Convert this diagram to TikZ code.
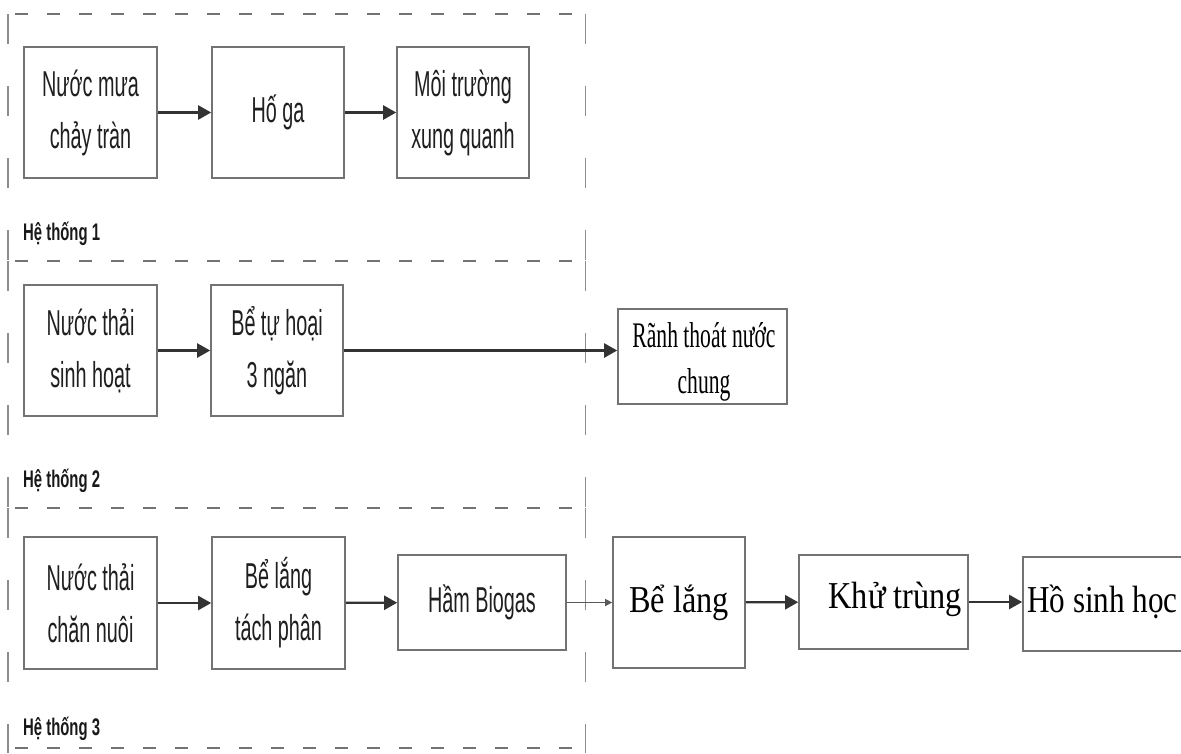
\documentclass[tikz,border=0pt]{standalone}
\usepackage{fontspec}
\setmainfont{Liberation Sans}
\newfontfamily\nar[FakeStretch=0.55]{Liberation Sans}
\newfontfamily\narb[FakeStretch=0.62]{Liberation Sans}
\newfontfamily\tms[FakeStretch=0.85]{Liberation Serif}
\newfontfamily\tmsh[FakeStretch=0.82]{Liberation Serif}
\newfontfamily\tmsn[FakeStretch=0.6]{Liberation Serif}
\usetikzlibrary{arrows.meta}
\begin{document}
\begin{tikzpicture}[x=1pt,y=-1pt,
  box/.style={draw=black!55,line width=1.6pt,rectangle,inner sep=0pt,align=center,text=black!88},
  sansbox/.style={box,font=\nar\fontsize{36}{52}\selectfont},
  serifbox/.style={box,font=\tms\fontsize{38}{46}\selectfont,text=black},
  flow/.style={draw=black!80,line width=2.2pt,-{Triangle[length=13pt,width=14pt]}},
  thinflow/.style={draw=black!65,line width=1.2pt,-{Triangle[length=7pt,width=7pt]}},
  hdash/.style={draw=black!55,line width=2pt,dash pattern=on 13pt off 19pt,dash phase=-7pt},
  vdash/.style={draw=black!45,line width=1.4pt,dash pattern=on 30pt off 42pt},
  grp/.style={font=\narb\bfseries\fontsize{24}{28}\selectfont,anchor=base west,inner sep=0pt,text=black!90}]
\useasboundingbox[fill=white] (0,0) rectangle (1181,753);

% dashed group frames
\coordinate (f1) at (8,14);   \coordinate (f1r) at (585.5,14);
\coordinate (f2) at (8,261);  \coordinate (f2r) at (585.5,261);
\coordinate (f3) at (8,508);  \coordinate (f3r) at (585.5,508);
\coordinate (f4) at (8,748);  \coordinate (f4r) at (585.5,748);
\coordinate (f5) at (8,753);  \coordinate (f5r) at (585.5,753);
\foreach \a/\b in {f1/f1r,f2/f2r,f3/f3r,f4/f4r} \draw[hdash] (\a) -- (\b);
\foreach \a/\b in {f1/f2,f2/f3,f3/f5,f1r/f2r,f2r/f3r,f3r/f5r} \draw[vdash] (\a) -- (\b);

% group 1
\node[sansbox,minimum width=133pt,minimum height=131pt] (a1) at (90.5,112.5) {Nước mưa\\chảy tràn};
\node[sansbox,minimum width=132pt,minimum height=131pt] (a2) at (278,112.5) {Hố ga};
\node[sansbox,minimum width=132pt,minimum height=131pt] (a3) at (463,112.5) {Môi trường\\xung quanh};
\node[grp] (l1) at (23,240) {Hệ thống 1};
\draw[flow] (a1) -- (a2);
\draw[flow] (a2) -- (a3);

% group 2
\node[sansbox,minimum width=133pt,minimum height=131pt] (b1) at (90.5,350.5) {Nước thải\\sinh hoạt};
\node[sansbox,minimum width=132pt,minimum height=131pt] (b2) at (277,350.5) {Bể tự hoại\\3 ngăn};
\node[box,minimum width=169pt,minimum height=95pt] (b3) at (702.5,356.5) {};
\node[font=\tmsn\fontsize{36}{46}\selectfont,align=center,anchor=base,inner sep=0pt] (b3t) at (704,393) {Rãnh thoát nước\\chung};
\node[grp] (l2) at (23,487) {Hệ thống 2};
\draw[flow] (b1) -- (b2);
\draw[flow] (b2.east) -- (b2.east -| b3.west);

% group 3
\node[sansbox,minimum width=133pt,minimum height=132pt] (c1) at (90.5,603) {Nước thải\\chăn nuôi};
\node[sansbox,minimum width=133pt,minimum height=132pt] (c2) at (278.5,603) {Bể lắng\\tách phân};
\node[sansbox,minimum width=168pt,minimum height=95pt] (c3) at (482,602.5) {Hầm Biogas};
\node[serifbox,minimum width=132pt,minimum height=131pt] (c4) at (679,602.5) {Bể lắng};
\node[box,minimum width=169pt,minimum height=94pt] (c5) at (883.5,602) {};
\node[font=\tms\fontsize{38}{46}\selectfont,anchor=base east,inner sep=0pt] (c5t) at (962,608) {Khử trùng};
\node[box,minimum width=177pt,minimum height=94pt] (c6) at (1111.5,604) {};
\node[font=\tmsh\fontsize{38}{46}\selectfont,anchor=base west,inner sep=0pt] (c6t) at (1027,612) {Hồ sinh học};
\node[grp] (l3) at (23,735) {Hệ thống 3};
\draw[flow] (c1) -- (c2);
\draw[flow] (c2) -- (c3);
\draw[thinflow] (c3) -- (c4);
\draw[flow] (c4) -- (c5);
\draw[flow] (c5.east) -- (c5.east -| c6.west);
\end{tikzpicture}
\end{document}
